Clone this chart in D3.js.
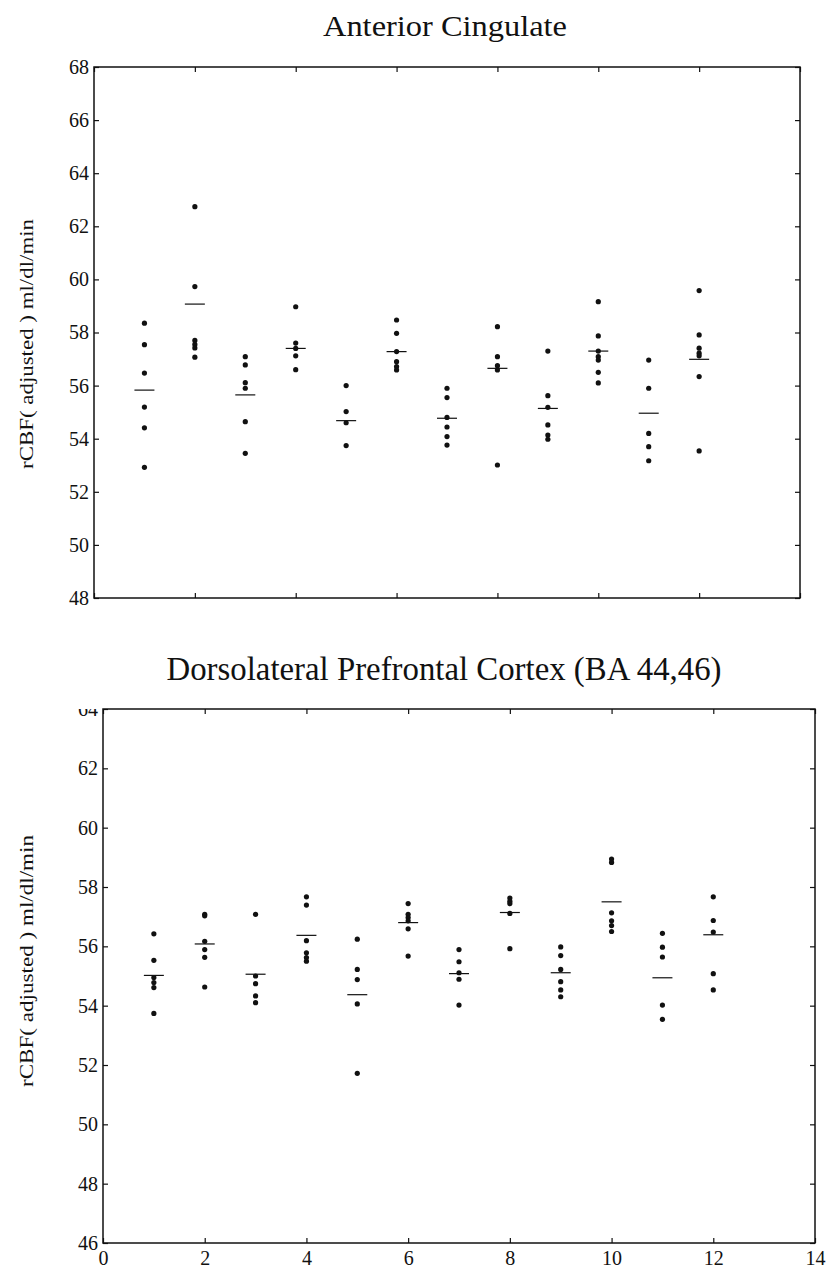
<!DOCTYPE html>
<html><head><meta charset="utf-8">
<script src="https://cdn.jsdelivr.net/npm/d3@7"></script>
<style>
body{margin:0;background:#fff}
text{font-family:"Liberation Serif","Times New Roman",serif;fill:#111}
</style>
</head><body>
<svg id="c" width="830" height="1271"></svg>
<script>
// ---- data ----
const groups = [1,2,3,4,5,6,7,8,9,10,11,12];
const xTicks = [0,2,4,6,8,10,12,14];

const acTitle = "Anterior Cingulate";
const acYTicks = [48,50,52,54,56,58,60,62,64,66,68];
const acValues = [
  [58.35,57.54,56.47,55.19,54.41,52.92],
  [62.74,59.73,57.70,57.55,57.42,57.07],
  [57.09,56.78,56.11,55.90,54.64,53.45],
  [58.97,57.60,57.40,57.12,56.60],
  [56.00,55.02,54.60,53.74],
  [58.47,57.97,57.28,56.90,56.72,56.59],
  [55.90,55.55,54.80,54.44,54.08,53.76],
  [58.22,57.09,56.75,56.59,53.01],
  [57.30,55.62,55.18,54.52,54.14,53.98],
  [59.16,57.87,57.30,57.09,56.96,56.50,56.10],
  [56.96,55.90,54.20,53.70,53.17],
  [59.58,57.91,57.41,57.22,57.12,56.34,53.54]
];
const acMeans = [55.83,59.07,55.65,57.40,54.68,57.28,54.77,56.65,55.14,57.30,54.96,56.99];

const dlTitle = "Dorsolateral Prefrontal Cortex (BA 44,46)";
const dlYTicks = [46,48,50,52,54,56,58,60,62,64];
const dlValues = [
  [56.42,55.53,54.95,54.78,54.61,53.74],
  [57.08,57.03,56.17,55.89,55.63,54.63],
  [57.08,55.00,54.74,54.33,54.10],
  [57.67,57.39,56.19,55.78,55.62,55.50],
  [56.24,55.22,54.88,54.06,51.72],
  [57.44,57.08,56.97,56.86,56.59,55.67],
  [55.89,55.48,55.11,54.89,54.02],
  [57.63,57.52,57.44,57.11,55.92],
  [55.98,55.69,55.22,54.81,54.53,54.30],
  [58.94,58.83,57.13,56.86,56.70,56.50],
  [56.44,55.97,55.64,54.02,53.54],
  [57.67,56.87,56.48,55.08,54.53]
];
const dlMeans = [55.02,56.08,55.06,56.37,54.37,56.80,55.08,57.14,55.11,57.50,54.94,56.39];

const yLabel = "rCBF( adjusted ) ml/dl/min";

// ---- drawing ----
const svg = d3.select("#c");
const SERIF = '"Liberation Serif","Times New Roman",serif';

function panel(cfg){
  const g = svg.append("g");
  const x = d3.scaleLinear().domain([0,14]).range([cfg.left,cfg.right]);
  const y = d3.scaleLinear().domain([cfg.yTicks[0], cfg.yTicks[cfg.yTicks.length-1]]).range([cfg.bottom,cfg.top]);

  // title
  g.append("text").attr("x",cfg.titleX).attr("y",cfg.titleY)
    .attr("text-anchor","middle").style("font-size",cfg.titleSize+"px")
    .attr("textLength",cfg.titleLen).attr("lengthAdjust","spacingAndGlyphs")
    .text(cfg.title);

  // y label
  g.append("text").attr("transform",`translate(${cfg.ylabX},${cfg.ylabY}) rotate(-90)`)
    .attr("text-anchor","middle").style("font-size","19px")
    .attr("textLength",cfg.ylabLen).attr("lengthAdjust","spacingAndGlyphs")
    .text(yLabel);

  // axes (inward ticks on all four sides)
  const ly = g.append("g").attr("transform",`translate(${cfg.left},0)`)
    .call(d3.axisLeft(y).tickValues(cfg.yTicks).tickSizeInner(-5).tickSizeOuter(0).tickPadding(5));
  if (cfg.clipTop) {
    const clipId = "clip"+cfg.id;
    svg.append("clipPath").attr("id",clipId).attr("clipPathUnits","userSpaceOnUse")
      .append("rect").attr("x",-300).attr("y",cfg.top).attr("width",1200).attr("height",1271);
    ly.attr("clip-path",`url(#${clipId})`);
  }
  g.append("g").attr("transform",`translate(${cfg.right},0)`)
    .call(d3.axisRight(y).tickValues(cfg.yTicks).tickSizeInner(-5).tickSizeOuter(0).tickFormat(""));
  g.append("g").attr("transform",`translate(0,${cfg.top})`)
    .call(d3.axisTop(x).tickValues(xTicks).tickSizeInner(-5).tickSizeOuter(0).tickFormat(""));
  g.append("g").attr("transform",`translate(0,${cfg.bottom})`)
    .call(d3.axisBottom(x).tickValues(xTicks).tickSizeInner(-5).tickSizeOuter(0).tickPadding(8)
      .tickFormat(cfg.xLabels ? d3.format("d") : ""));
  g.selectAll(".domain").remove();
  g.selectAll("g").filter(function(){return this.getAttribute("font-family");})
    .attr("font-family",SERIF).attr("font-size",20);
  g.selectAll(".tick line").attr("stroke","#111").attr("stroke-width",1.2);
  g.selectAll(".tick text").style("font-family",SERIF).style("font-size","20px").attr("fill","#111");

  // frame
  g.append("rect").attr("x",cfg.left).attr("y",cfg.top)
    .attr("width",cfg.right-cfg.left).attr("height",cfg.bottom-cfg.top)
    .attr("fill","none").attr("stroke","#111").attr("stroke-width",1.5);

  // points
  const pts = [];
  cfg.values.forEach((arr,i)=>arr.forEach(v=>pts.push({g:groups[i],v})));
  g.append("g").selectAll("circle").data(pts).join("circle")
    .attr("cx",d=>x(d.g)).attr("cy",d=>y(d.v)).attr("r",2.6).attr("fill","#111");

  // mean lines
  g.append("g").selectAll("line").data(cfg.means).join("line")
    .attr("x1",(d,i)=>x(groups[i])-10).attr("x2",(d,i)=>x(groups[i])+10)
    .attr("y1",d=>y(d)).attr("y2",d=>y(d))
    .attr("stroke","#111").attr("stroke-width",1.2);
}

panel({id:"ac", title:acTitle, titleX:445, titleY:36, titleSize:29, titleLen:244,
  left:94, right:800, top:67, bottom:598, yTicks:acYTicks, values:acValues, means:acMeans,
  ylabX:33, ylabY:344, ylabLen:250, xLabels:false, clipTop:false});

panel({id:"dl", title:dlTitle, titleX:444, titleY:680, titleSize:33, titleLen:555,
  left:103, right:815, top:709, bottom:1243, yTicks:dlYTicks, values:dlValues, means:dlMeans,
  ylabX:33, ylabY:961, ylabLen:252, xLabels:true, clipTop:true});
</script>
</body></html>
